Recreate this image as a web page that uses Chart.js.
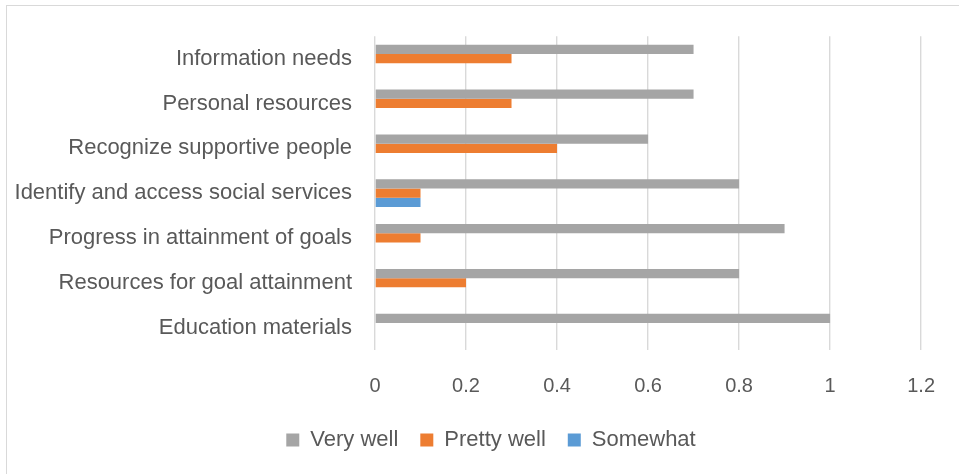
<!DOCTYPE html>
<html>
<head>
<meta charset="utf-8">
<script src="https://cdn.jsdelivr.net/npm/chart.js@4"></script>
<style>
html,body{margin:0;padding:0;background:#fff;}
#wrap{position:relative;width:959px;height:474px;overflow:hidden;}
#frame{position:absolute;left:6px;top:5px;width:960px;height:480px;border:1px solid #d9d9d9;box-sizing:border-box;}
canvas{position:absolute;left:0;top:0;}
</style>
</head>
<body>
<div id="wrap">
<div id="frame"></div>
<canvas id="c" width="959" height="474"></canvas>
</div>
<script>
const categories = [
  "Information needs",
  "Personal resources",
  "Recognize supportive people",
  "Identify and access social services",
  "Progress in attainment of goals",
  "Resources for goal attainment",
  "Education materials"
];
const veryWell   = [0.7, 0.7, 0.6, 0.8, 0.9, 0.8, 1.0];
const prettyWell = [0.3, 0.3, 0.4, 0.1, 0.1, 0.2, 0];
const somewhat   = [0,   0,   0,   0.1, 0,   0,   0];
const seriesNames = ["Very well", "Pretty well", "Somewhat"];
const xTicks = [0, 0.2, 0.4, 0.6, 0.8, 1, 1.2];

const txt = "#595959";
const FONT = "'Liberation Sans', Arial, sans-serif";

const shiftLegend = {
  id: 'shiftLegend',
  afterLayout(chart) {
    const l = chart.legend;
    if (l) { l.left += 30; l.right += 30; }
  }
};

new Chart(document.getElementById('c'), {
  type: 'bar',
  data: {
    labels: categories,
    datasets: [
      {label: seriesNames[0], data: veryWell, backgroundColor: '#A5A5A5'},
      {label: seriesNames[1], data: prettyWell, backgroundColor: '#ED7D31'},
      {label: seriesNames[2], data: somewhat, backgroundColor: '#5B9BD5'}
    ]
  },
  plugins: [shiftLegend],
  options: {
    indexAxis: 'y',
    responsive: false,
    animation: false,
    devicePixelRatio: 1,
    datasets: {bar: {categoryPercentage: 0.617, barPercentage: 1.0, borderWidth: 0}},
    layout: {padding: {top: 34, right: 37, left: 0, bottom: 13}},
    plugins: {
      tooltip: {enabled: false},
      legend: {
        position: 'bottom',
        labels: {
          boxWidth: 13, boxHeight: 13, padding: 22,
          color: txt, font: {family: FONT, size: 22}
        }
      }
    },
    scales: {
      x: {
        min: 0, max: 1.2,
        afterBuildTicks: s => { s.ticks = xTicks.map(v => ({value: v})); },
        afterFit: s => { s.height = 57; },
        grid: {color: '#d9d9d9', lineWidth: 1.4, drawTicks: false},
        border: {display: false},
        ticks: {
          color: txt, padding: 24, maxRotation: 0,
          font: {family: FONT, size: 20},
          callback: v => String(Math.round(v * 10) / 10)
        }
      },
      y: {
        afterFit: s => { s.width = 375; },
        grid: {display: false, drawTicks: false},
        border: {display: false},
        ticks: {color: txt, padding: 23, font: {family: FONT, size: 22}}
      }
    }
  }
});
</script>
</body>
</html>
